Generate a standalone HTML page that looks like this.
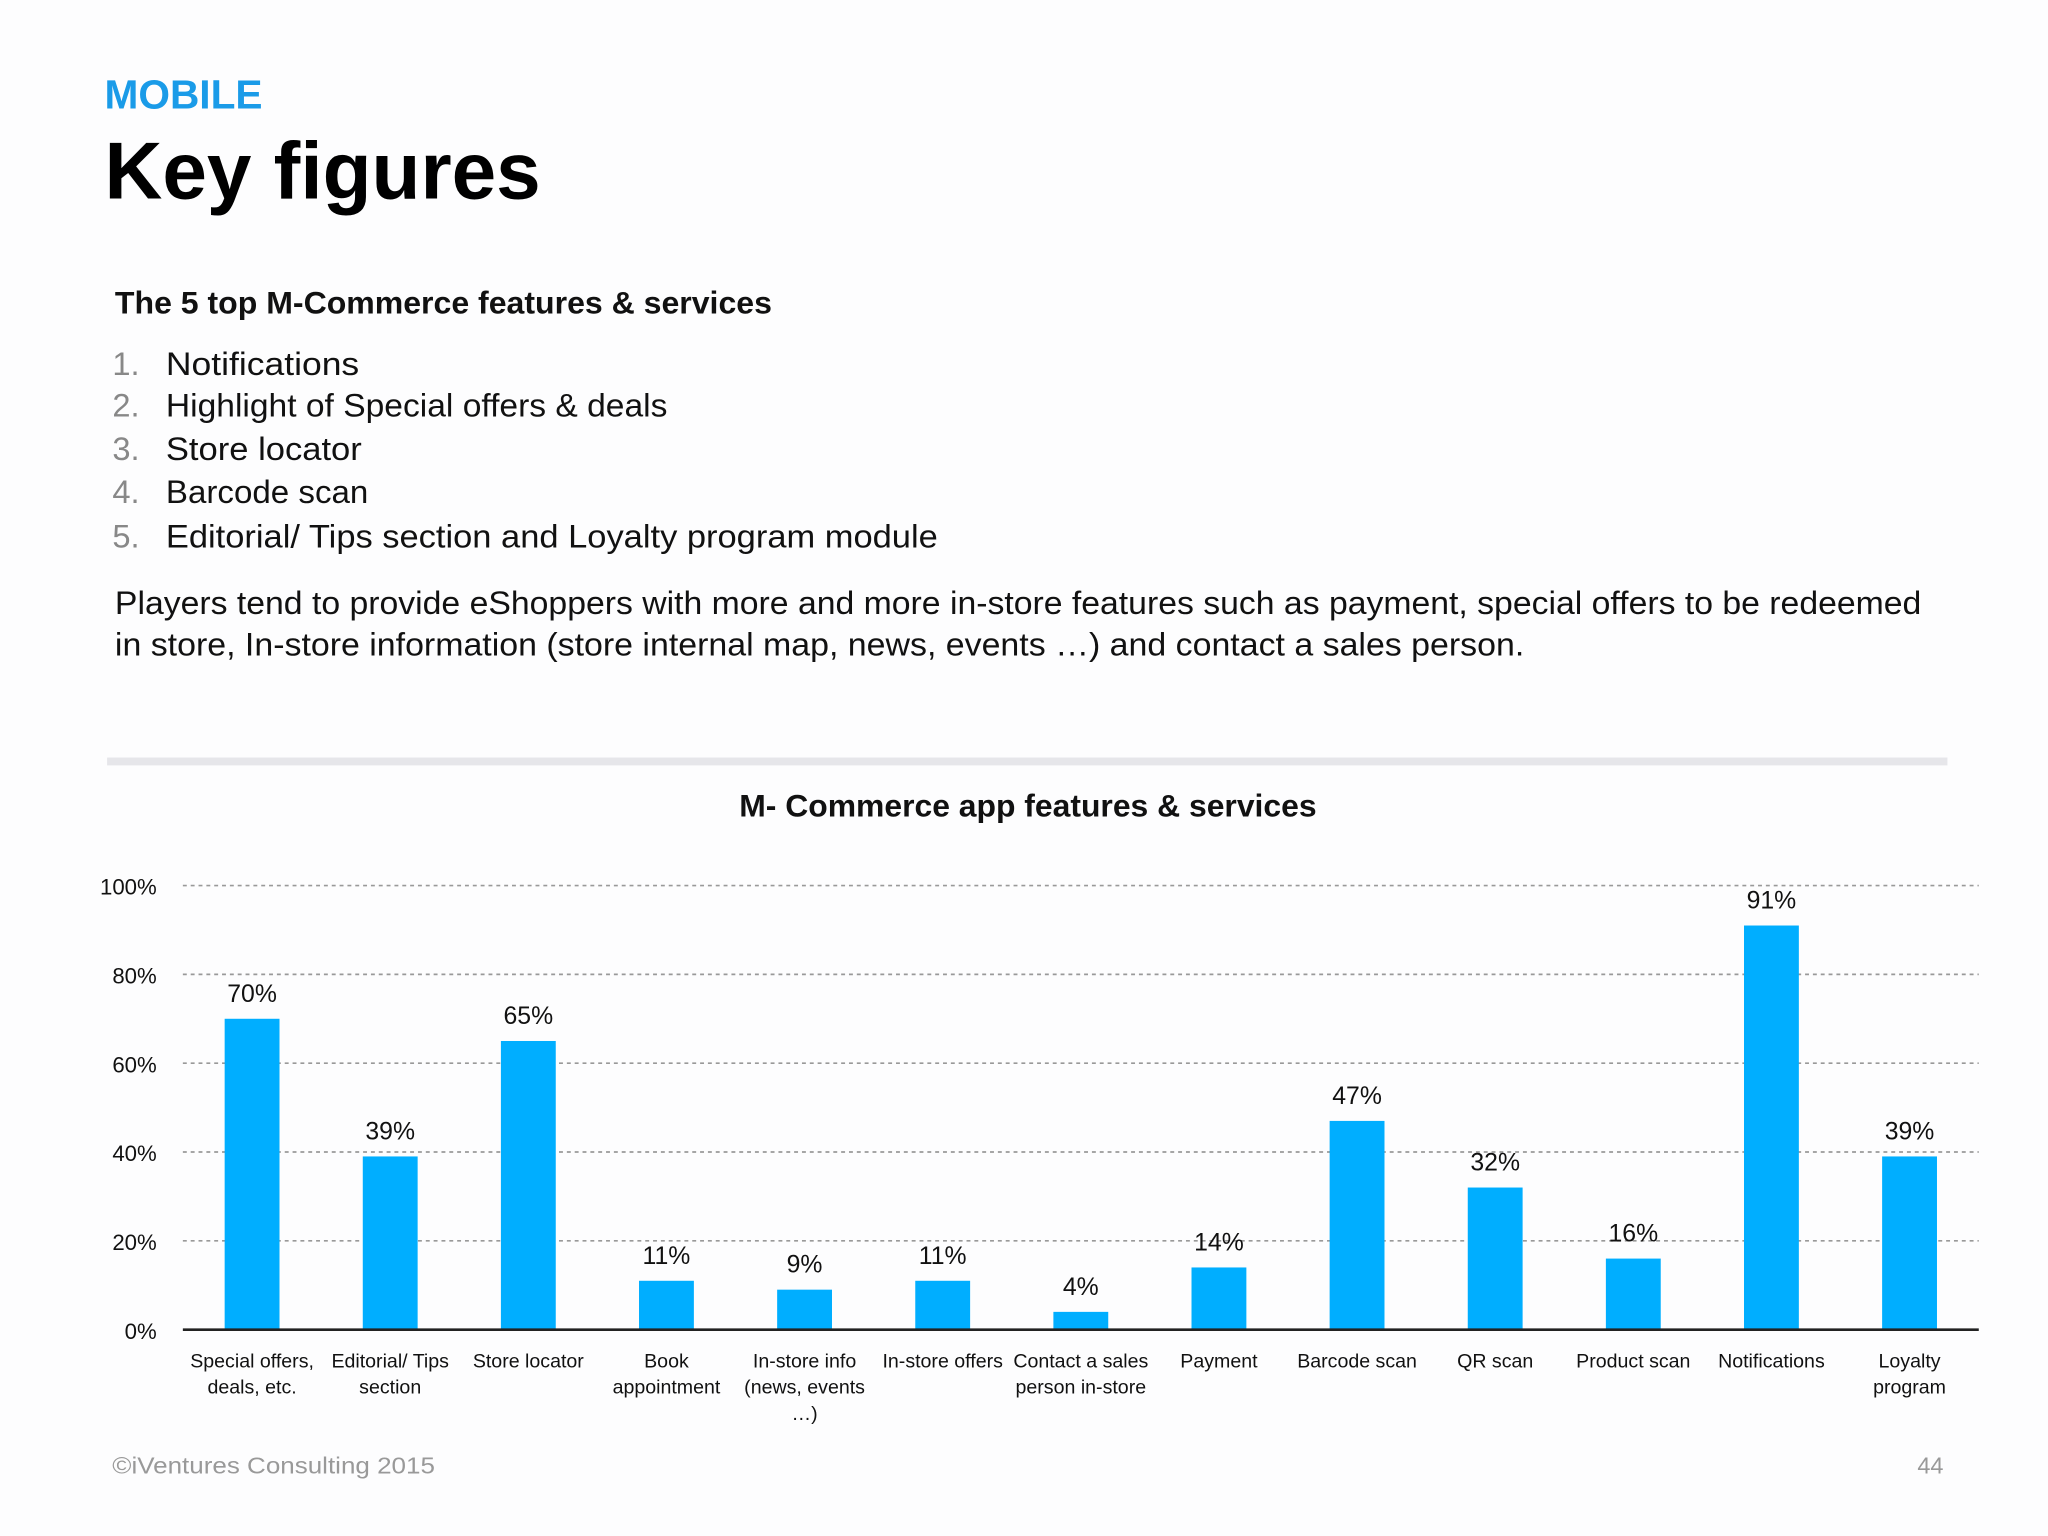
<!DOCTYPE html>
<html><head><meta charset="utf-8"><style>
html,body{margin:0;padding:0;background:#fdfdfe;}
svg{display:block;font-family:"Liberation Sans",sans-serif;}
</style></head><body>
<svg id="chart" width="2048" height="1536" viewBox="0 0 1568 1176" xmlns="http://www.w3.org/2000/svg">
<rect width="1568" height="1176" fill="#fdfdfe"/>
<text x="80" y="83" font-size="31" font-weight="bold" fill="#1a9be8" textLength="121" lengthAdjust="spacingAndGlyphs">MOBILE</text>
<text x="80" y="152" font-size="62" font-weight="bold" fill="#000" textLength="334" lengthAdjust="spacingAndGlyphs">Key figures</text>
<text x="88" y="240" font-size="24" font-weight="bold" fill="#111" textLength="503" lengthAdjust="spacingAndGlyphs">The 5 top M-Commerce features &amp; services</text>
<g font-size="25" fill="#111">
<text x="86" y="287" fill="#888">1.</text><text x="127" y="287" textLength="148" lengthAdjust="spacingAndGlyphs">Notifications</text>
<text x="86" y="319" fill="#888">2.</text><text x="127" y="319" textLength="384" lengthAdjust="spacingAndGlyphs">Highlight of Special offers &amp; deals</text>
<text x="86" y="352" fill="#888">3.</text><text x="127" y="352" textLength="150" lengthAdjust="spacingAndGlyphs">Store locator</text>
<text x="86" y="385" fill="#888">4.</text><text x="127" y="385" textLength="155" lengthAdjust="spacingAndGlyphs">Barcode scan</text>
<text x="86" y="419" fill="#888">5.</text><text x="127" y="419" textLength="591" lengthAdjust="spacingAndGlyphs">Editorial/ Tips section and Loyalty program module</text>
</g>
<g font-size="25" fill="#111">
<text x="88" y="470" textLength="1383" lengthAdjust="spacingAndGlyphs">Players tend to provide eShoppers with more and more in-store features such as payment, special offers to be redeemed</text>
<text x="88" y="502" textLength="1079" lengthAdjust="spacingAndGlyphs">in store, In-store information (store internal map, news, events …) and contact a sales person.</text>
</g>
<rect x="82" y="580" width="1409" height="6" fill="#e6e6ea"/>
<text x="787" y="625" font-size="24" font-weight="bold" fill="#111" text-anchor="middle" textLength="442" lengthAdjust="spacingAndGlyphs">M- Commerce app features &amp; services</text>
<g id="grid"></g><g id="bars"></g><g id="labels"></g>
<text x="86" y="1128" font-size="18" fill="#999" textLength="247" lengthAdjust="spacingAndGlyphs">©iVentures Consulting 2015</text>
<text x="1488" y="1128" font-size="18" fill="#999" text-anchor="end">44</text>
</svg>
<script>
const categories = [["Special offers,","deals, etc."],["Editorial/ Tips","section"],["Store locator"],["Book","appointment"],["In-store info","(news, events","…)"],["In-store offers"],["Contact a sales","person in-store"],["Payment"],["Barcode scan"],["QR scan"],["Product scan"],["Notifications"],["Loyalty","program"]];
const values = [70,39,65,11,9,11,4,14,47,32,16,91,39];
const ticks = [0,20,40,60,80,100];
const NS="http://www.w3.org/2000/svg";
const x0=140,x1=1515,y0=1018,y100=678,first=193,step=105.75,bw=42;
const y=v=>y0-(v/100)*(y0-y100);
const xc=i=>first+i*step;
function mk(t,a,p){const e=document.createElementNS(NS,t);for(const k in a)e.setAttribute(k,a[k]);p.appendChild(e);return e;}
const g=document.getElementById('grid'),b=document.getElementById('bars'),l=document.getElementById('labels');
ticks.forEach(t=>{
  if(t>0){const ln=mk('line',{x1:x0,x2:x1,y1:y(t),y2:y(t),stroke:'#999','stroke-width':1.3,'stroke-dasharray':'3 3'},g);
  
  }
  const tx=mk('text',{x:120,y:y(t)+7,'font-size':17,fill:'#111','text-anchor':'end'},g);
  tx.textContent=t+'%';
  
  
});
values.forEach((v,i)=>{
  const r=mk('rect',{x:xc(i)-bw/2,y:y(v),width:bw,height:y0-y(v),fill:'#00aeff'},b);
  
  
  const t=mk('text',{x:xc(i),y:y(v)-13,'font-size':19,fill:'#111','text-anchor':'middle'},l);
  t.textContent=v+'%';
  
  
  categories[i].forEach((s,j)=>{
    const c=mk('text',{x:xc(i),y:1047+j*20,'font-size':15,fill:'#111','text-anchor':'middle'},l);
    c.textContent=s;
    
    
  });
});
const ax=mk('line',{x1:x0,x2:x1,y1:y0,y2:y0,stroke:'#222','stroke-width':2},l);


</script>
</body></html>
